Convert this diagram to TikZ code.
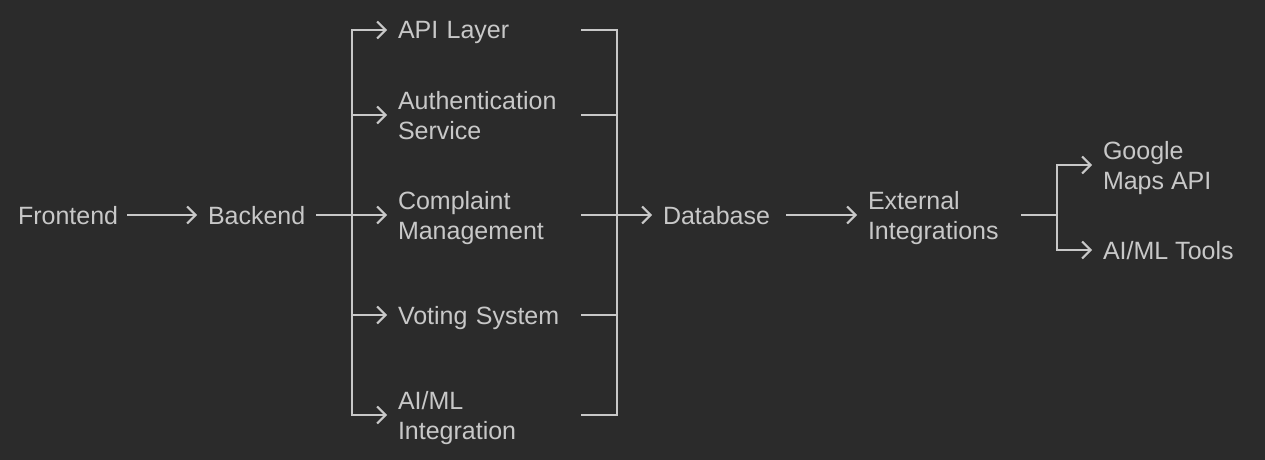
\documentclass[tikz,border=0pt]{standalone}
\usepackage{fontspec}
\setmainfont{Liberation Sans}
\usetikzlibrary{arrows.meta}
\definecolor{bgc}{HTML}{2B2B2B}
\definecolor{fgc}{HTML}{C8C8C8}
\newcommand\lstrut{\rule[-6pt]{0pt}{30pt}}
\begin{document}
\begin{tikzpicture}[x=1pt,y=-1pt,
  lbl/.style={font=\fontsize{25}{30}\selectfont, text=fgc, inner sep=0pt, outer sep=0pt, anchor=west, align=left},
  conn/.style={draw=fgc, line width=2pt},
  arr/.style={conn, -{Straight Barb[length=8.5pt,width=17pt]}}]
\fill[bgc] (0,0) rectangle (1265,460);
\useasboundingbox (0,0) rectangle (1265,460);
\node[lbl, text width=98pt] (fe) at (18,215) {\lstrut Frontend};
\node[lbl, text width=95pt] (be) at (208,215) {\lstrut Backend};
\node[lbl, text width=173pt] (api) at (398,30) {\lstrut API Layer};
\node[lbl, text width=173pt] (auth) at (398,115) {\lstrut Authentication\\\lstrut Service};
\node[lbl, text width=173pt] (cm) at (398,215) {\lstrut Complaint\\\lstrut Management};
\node[lbl, text width=173pt] (vs) at (398,315) {\lstrut Voting System};
\node[lbl, text width=173pt] (aiml) at (398,415) {\lstrut AI/ML\\\lstrut Integration};
\node[lbl, text width=105pt] (db) at (663,215) {\lstrut Database};
\node[lbl, text width=132pt] (ext) at (868,215) {\lstrut External\\\lstrut Integrations};
\node[lbl] (gm) at (1103,165) {\lstrut Google\\\lstrut Maps API};
\node[lbl] (ait) at (1103,250) {\lstrut AI/ML Tools};
\coordinate (s) at (352,215);
\coordinate (m) at (617,215);
\coordinate (e) at (1057,215);
\draw[arr, shorten <=11pt, shorten >=11pt] (fe) -- (be);
\draw[conn, shorten <=13pt] (be) -- (s);
\foreach \n in {api,auth,cm,vs,aiml} {
  \draw[arr, shorten >=11pt] (s) |- (\n);
  \draw[conn, shorten <=10pt] (\n) -| (m);
}
\draw[arr, shorten >=11pt] (m) -- (db);
\draw[arr, shorten <=18pt, shorten >=11pt] (db) -- (ext);
\draw[conn, shorten <=21pt] (ext) -- (e);
\draw[arr, shorten >=11pt] (e) |- (gm);
\draw[arr, shorten >=11pt] (e) |- (ait);
\end{tikzpicture}
\end{document}
